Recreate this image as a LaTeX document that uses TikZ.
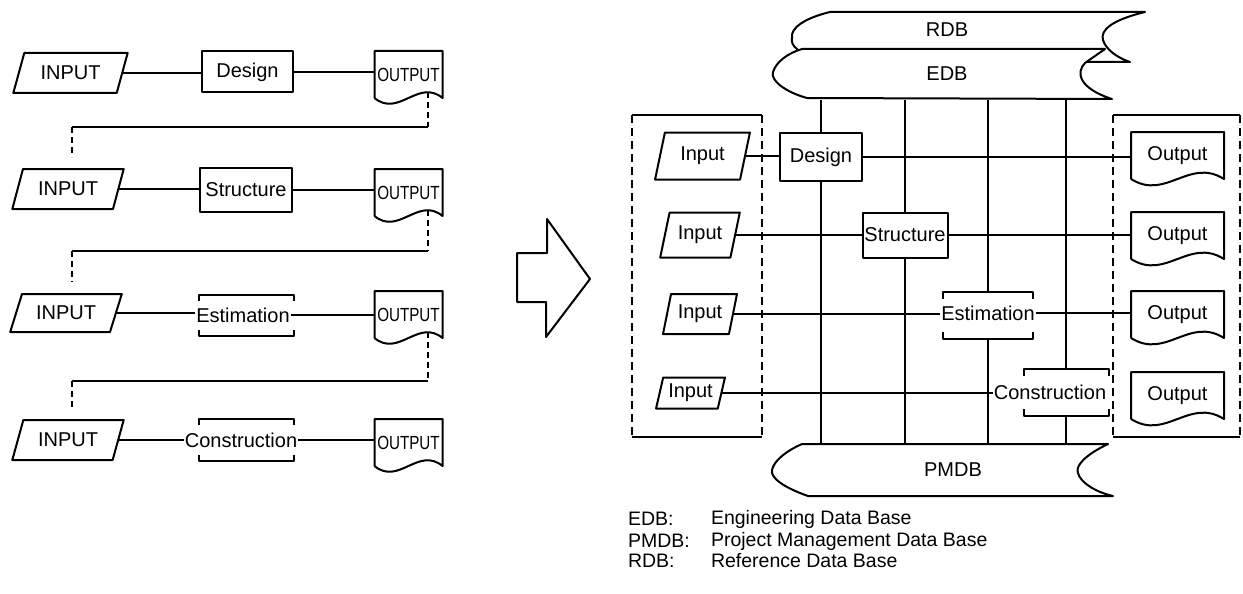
\documentclass[tikz,border=0pt]{standalone}
\usepackage{fontspec}
\setmainfont{Liberation Sans}
\usetikzlibrary{shapes.geometric}
\begin{document}
\begin{tikzpicture}[x=1pt, y=-1pt, line width=2pt, line join=round,
  txt/.style={font=\fontsize{20}{22}\selectfont, inner sep=0pt},
  smalltxt/.style={font=\fontsize{19}{21}\selectfont, inner sep=0pt},
  legendtxt/.style={font=\fontsize{19.5}{21}\selectfont, inner sep=0pt, anchor=west},
  inshape/.style={txt, draw, trapezium, trapezium stretches=true},
  procbox/.style={txt, draw, rectangle},
  doc/.style={rectangle, inner sep=0pt},
  brk/.style={rectangle, inner sep=0pt},
  hop/.style={dash pattern=on 6pt off 4pt},
  fence/.style={dash pattern=on 8pt off 5pt},
  store/.style={draw, fill=white}]

\useasboundingbox (0,0) rectangle (1243,594);

% ---------------- sequential flow (left) ----------------
\node[inshape, trapezium left angle=63, trapezium right angle=117, minimum width=115, minimum height=40] (li1) at (70.5,73) {INPUT};
\node[inshape, trapezium left angle=63, trapezium right angle=117, minimum width=112, minimum height=40] (li2) at (68,189) {INPUT};
\node[inshape, trapezium left angle=60, trapezium right angle=120, minimum width=112, minimum height=38] (li3) at (66,313) {INPUT};
\node[inshape, trapezium left angle=62, trapezium right angle=118, minimum width=112, minimum height=40] (li4) at (68,440) {INPUT};

\node[procbox, minimum width=91, minimum height=41] (lp1) at (247.5,72) {Design};
\node[procbox, minimum width=92, minimum height=44] (lp2) at (246,190) {Structure};
\node[txt] (lp3) at (243,315) {Estimation};
\node[brk, minimum width=93, minimum height=39] (lb3) at (246.5,315.5) {};
\node[txt] (lp4) at (241,440) {Construction};
\node[brk, minimum width=93, minimum height=40] (lb4) at (246.5,440) {};

\node[doc, smalltxt, minimum width=66, minimum height=45] (lo1) at (408.5,74.5) {\scalebox{0.8}[1]{OUTPUT}};
\node[doc, smalltxt, minimum width=66, minimum height=45] (lo2) at (408.5,192.5) {\scalebox{0.8}[1]{OUTPUT}};
\node[doc, smalltxt, minimum width=66, minimum height=45] (lo3) at (408.5,314.5) {\scalebox{0.8}[1]{OUTPUT}};
\node[doc, smalltxt, minimum width=66, minimum height=45] (lo4) at (408.5,442.5) {\scalebox{0.8}[1]{OUTPUT}};

\foreach \n in {lo1,lo2,lo3,lo4}
  \draw (\n.south west) -- (\n.north west) -- (\n.north east) -- (\n.south east)
        .. controls +(-24,-20) and +(24,20) .. (\n.south west);

\foreach \b in {lb3,lb4} {
  \draw (\b.north west) ++(0,6) |- (\b.north east) -- ++(0,6);
  \draw (\b.south west) ++(0,-6) |- (\b.south east) -- ++(0,-6);
}

\draw (li1.east) -- (li1.east -| lp1.west);
\draw (lp1.east) -- (lp1.east -| lo1.west);
\draw (li2.east) -- (li2.east -| lp2.west);
\draw (lp2.east) -- (lp2.east -| lo2.west);
\draw (li3.east) -- (li3.east -| lp3.west);
\draw (lp3.east) -- (lp3.east -| lo3.west);
\draw (li4.east) -- (li4.east -| lp4.west);
\draw (lp4.east) -- (lp4.east -| lo4.west);

% hand-over from one stage to the next
\coordinate (w1) at (428,92);  \coordinate (t1a) at (428,127); \coordinate (t1b) at (72,127); \coordinate (t1c) at (72,157);
\coordinate (w2) at (428,210); \coordinate (t2a) at (428,251); \coordinate (t2b) at (72,251); \coordinate (t2c) at (72,282);
\coordinate (w3) at (428,332); \coordinate (t3a) at (428,381); \coordinate (t3b) at (72,381); \coordinate (t3c) at (72,410);
\foreach \i in {1,2,3} {
  \draw[hop] (w\i) -- (t\i a);
  \draw (t\i a) -- (t\i b);
  \draw[hop] (t\i b) -- (t\i c);
}

% ---------------- block arrow ----------------
\draw (517,253) -- (547,253) -- (547,219) -- (590,279) -- (546,337) -- (546,302) -- (517,302) -- cycle;

% ---------------- integrated system (right) ----------------
% reference data base
\draw[store] (830,12) -- (1145,12)
  .. controls (1112,20) and (1100,30) .. (1103,40)
  .. controls (1106,50) and (1118,58) .. (1130,62)
  -- (800,62) -- (797,49)
  .. controls (793,46) and (791,42) .. (792,38)
  .. controls (790,28) and (805,18) .. (830,12) -- cycle;
% engineering data base
\draw[store] (802,49) -- (1105,49) -- (1085,63)
  .. controls (1076,72) and (1078,88) .. (1112,99)
  -- (807,98)
  .. controls (785,92) and (770,80) .. (773,72)
  .. controls (776,62) and (788,53) .. (802,49) -- cycle;
% project management data base
\draw[store] (802,444) -- (1108,444)
  .. controls (1085,455) and (1075,466) .. (1078,473)
  .. controls (1080,482) and (1095,492) .. (1113,496)
  -- (808,496)
  .. controls (785,488) and (770,478) .. (772,470)
  .. controls (774,460) and (788,450) .. (802,444) -- cycle;

\node[txt, minimum height=50] (rdb) at (947,30) {RDB};
\node[txt, minimum height=50] (edb) at (947,74) {EDB};
\node[txt, minimum height=52] (pmdb) at (953,470) {PMDB};

% input and output groups
\draw (632,115) -- (762,115);
\draw (632,437) -- (762,437);
\draw[fence] (632,115) -- (632,437);
\draw[fence] (762,115) -- (762,437);
\draw (1113,115) -- (1240,115);
\draw (1113,437) -- (1240,437);
\draw[fence] (1113,115) -- (1113,437);
\draw[fence] (1240,115) -- (1240,437);

\node[inshape, trapezium left angle=72, trapezium right angle=108, minimum width=95, minimum height=47] (ri1) at (702.5,156) {Input};
\node[inshape, trapezium left angle=69, trapezium right angle=111, minimum width=80, minimum height=45] (ri2) at (700,235) {Input};
\node[inshape, trapezium left angle=71, trapezium right angle=109, minimum width=74, minimum height=40] (ri3) at (700,314) {Input};
\node[inshape, trapezium left angle=72, trapezium right angle=108, minimum width=69, minimum height=31] (ri4) at (690.5,393) {Input};

\node[procbox, minimum width=82, minimum height=48] (rp1) at (821,157) {Design};
\node[procbox, minimum width=85, minimum height=45] (rp2) at (905,235) {Structure};
\node[txt] (rp3) at (988,313) {Estimation};
\node[brk, minimum width=88, minimum height=45] (rb3) at (988,315.5) {};
\node[txt] (rp4) at (1050,392) {Construction};
\node[brk, minimum width=83, minimum height=45] (rb4) at (1066,392.5) {};

\node[doc, txt, minimum width=91, minimum height=45] (ro1) at (1177.5,155.5) {Output};
\node[doc, txt, minimum width=91, minimum height=45] (ro2) at (1177.5,235.5) {Output};
\node[doc, txt, minimum width=91, minimum height=45] (ro3) at (1177.5,314.5) {Output};
\node[doc, txt, minimum width=91, minimum height=45] (ro4) at (1177.5,395.5) {Output};

\foreach \n in {ro1,ro2,ro3,ro4}
  \draw (\n.south west) -- (\n.north west) -- (\n.north east) -- (\n.south east)
        .. controls +(-35,-22) and +(35,22) .. (\n.south west);

\foreach \b in {rb3,rb4} {
  \draw (\b.north west) ++(0,7) |- (\b.north east) -- ++(0,7);
  \draw (\b.south west) ++(0,-7) |- (\b.south east) -- ++(0,-7);
}

% data base columns
\foreach \p in {rp1,rp2,rb3,rb4} {
  \draw (\p.north |- edb.south) -- (\p.north);
  \draw (\p.south) -- (\p.south |- pmdb.north);
}

\draw (ri1.east) -- (ri1.east -| rp1.west);
\draw (rp1.east) -- (rp1.east -| ro1.west);
\draw (ri2.east) -- (ri2.east -| rp2.west);
\draw (rp2.east) -- (rp2.east -| ro2.west);
\draw (ri3.east) -- (ri3.east -| rp3.west);
\draw (rp3.east) -- (rp3.east -| ro3.west);
\draw (ri4.east) -- (ri4.east -| rp4.west);

% legend
\node[legendtxt] (k1) at (627,519) {EDB:};
\node[legendtxt] (v1) at (710,519) {Engineering Data Base};
\node[legendtxt] (k2) at (627,541) {PMDB:};
\node[legendtxt] (v2) at (710,541) {Project Management Data Base};
\node[legendtxt] (k3) at (627,561) {RDB:};
\node[legendtxt] (v3) at (710,561) {Reference Data Base};

\end{tikzpicture}
\end{document}
